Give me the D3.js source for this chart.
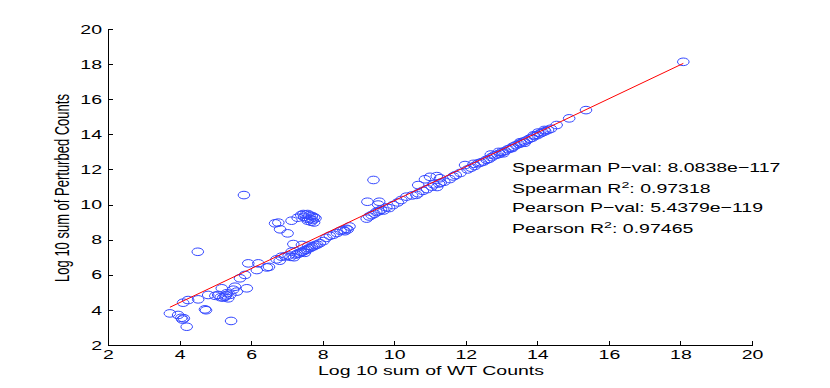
<!DOCTYPE html>
<html>
<head>
<meta charset="utf-8">
<script src="https://cdn.jsdelivr.net/npm/d3@7"></script>
<style>
  body { margin: 0; background: #fff; }
  text { font-family: "Liberation Sans", Arial, Helvetica, sans-serif; fill: #000; }
  .axis path, .axis line { stroke: #000; shape-rendering: crispEdges; }
</style>
</head>
<body>
<svg id="chart"></svg>
<script>
// log10 sums: [WT, Perturbed]
var points = [
  [3.73,3.80],[3.96,3.71],[4.05,3.55],[4.08,3.45],[4.12,3.52],[4.20,3.04],[4.71,4.03],[4.74,3.98],[5.44,3.37],
  [4.10,4.41],[4.24,4.56],[4.52,4.60],[4.80,4.85],[5.00,4.80],[5.08,4.85],[5.15,4.72],[5.18,5.23],[5.27,4.75],
  [5.30,4.82],[5.32,4.95],[5.22,4.70],[5.36,4.66],[5.42,4.86],[5.55,5.32],[5.60,5.04],[5.50,5.15],[5.88,5.23],
  [5.69,5.80],[5.83,5.99],[5.92,6.65],[6.20,6.65],[6.16,6.27],[6.44,6.42],[6.50,6.45],[4.51,7.31],[5.80,10.54],
  [6.71,6.88],[6.80,6.80],[6.85,7.03],[6.95,7.05],[7.05,7.10],[7.13,7.31],[7.20,7.00],[7.25,7.15],[7.30,7.20],
  [7.35,7.22],[7.40,7.30],[7.45,7.32],[7.50,7.40],[7.55,7.42],[7.60,7.50],[7.65,7.52],[7.70,7.60],[7.75,7.62],
  [7.80,7.70],[7.85,7.72],[7.92,7.80],[7.18,7.75],[7.42,7.70],[7.60,7.65],[7.10,7.02],[7.50,7.25],
  [6.67,8.93],[6.76,8.97],[6.81,8.59],[7.02,8.36],[7.13,9.08],[7.30,9.25],[7.40,9.40],[7.46,9.46],[7.52,9.42],
  [7.58,9.46],[7.63,9.38],[7.70,9.35],[7.76,9.28],[7.48,9.30],[7.55,9.20],[7.65,9.18],[7.72,9.12],[7.80,9.22],
  [7.58,9.08],[7.68,9.02],[7.76,8.98],
  [8.02,7.92],[8.10,8.10],[8.20,8.22],[8.30,8.28],[8.40,8.38],[8.50,8.50],[8.58,8.55],[8.66,8.62],[8.75,8.75],
  [8.70,8.58],[8.62,8.48],[9.23,9.20],[9.30,9.32],[9.37,9.40],[9.45,9.48],[9.50,9.58],[9.57,9.62],[9.63,9.70],
  [9.70,9.66],[9.78,9.84],[9.86,9.80],[9.97,9.97],[10.10,10.12],[10.20,10.26],[10.34,10.45],[10.50,10.52],
  [10.62,10.55],[10.67,10.64],[10.80,10.78],[10.92,10.88],[11.05,11.02],[11.20,11.00],[11.30,11.25],
  [9.42,11.40],[9.25,10.16],[9.58,10.16],[9.55,10.00],[10.67,11.11],[10.86,11.44],[11.00,11.58],[11.19,11.62],
  [11.28,11.50],[11.10,11.15],[11.25,11.20],
  [11.40,11.30],[11.55,11.45],[11.65,11.60],[11.72,11.68],[11.85,11.80],[11.98,12.25],[12.05,12.00],[12.15,12.10],
  [12.25,12.20],[12.22,12.32],[12.35,12.35],[12.42,12.40],[12.50,12.45],[12.58,12.55],[12.65,12.60],[12.72,12.70],
  [12.70,12.85],[12.80,12.80],[12.88,12.85],[12.92,13.00],[12.95,12.90],[13.02,13.00],[13.05,12.92],[13.10,13.05],
  [13.18,13.15],[13.25,13.20],[13.30,13.22],[13.32,13.30],[13.40,13.38],[13.48,13.45],[13.52,13.55],[13.55,13.50],
  [13.62,13.60],[13.65,13.52],[13.70,13.66],[13.78,13.75],[13.85,13.80],[13.90,13.95],[13.92,13.90],[14.00,13.96],
  [14.02,14.10],[14.08,14.05],[14.15,14.12],[14.20,14.25],[14.22,14.18],[14.30,14.25],[14.38,14.32],[14.54,14.53],
  [14.89,14.91],[15.36,15.38],[18.08,18.13]
];

// least squares fit line, end points
var fitX = [3.73, 18.08];
var fitY = [4.15, 18.04];

var xTicks = [2, 4, 6, 8, 10, 12, 14, 16, 18, 20];
var yTicks = [2, 4, 6, 8, 10, 12, 14, 16, 18, 20];

var statLabels = [
  {pre: 'Spearman P\u2212val: 8.0838e\u2212117'},
  {pre: 'Spearman R', sup: '2', post: ': 0.97318'},
  {pre: 'Pearson P\u2212val: 5.4379e\u2212119'},
  {pre: 'Pearson R', sup: '2', post: ': 0.97465'}
];

// figure is stretched horizontally, so is the text
var sx = 1.5;

var margin = {top: 29, right: 78, bottom: 43, left: 108},
  width = 830 - margin.left - margin.right,
  height = 388 - margin.top - margin.bottom;

var svg = d3.select('#chart')
  .attr('width', 830)
  .attr('height', 388);

var container = svg.append('g')
  .attr('transform', 'translate(' + margin.left + ',' + margin.top + ')');

var x = d3.scaleLinear().domain([2, 20]).range([0, width]);
var y = d3.scaleLinear().domain([2, 20]).range([height, 0]);

var xAxis = d3.axisBottom(x).tickValues(xTicks).tickSizeInner(-4).tickSizeOuter(0).tickPadding(5);
var yAxis = d3.axisLeft(y).tickValues(yTicks).tickSizeInner(-5).tickSizeOuter(0).tickPadding(4);

var gx = container.append('g')
  .attr('class', 'x axis')
  .attr('transform', 'translate(0,' + height + ')')
  .call(xAxis);
gx.selectAll('.tick text')
  .attr('fill', '#000')
  .style('font-size', '13px')
  .attr('transform', 'scale(' + sx + ',1)');

var gy = container.append('g')
  .attr('class', 'y axis')
  .call(yAxis);
gy.selectAll('.tick text')
  .attr('fill', '#000')
  .style('font-size', '13px')
  .attr('transform', 'scale(' + sx + ',1)');

container.selectAll('.axis .domain').attr('stroke', '#000');

// axis titles
container.append('text')
  .attr('transform', 'translate(' + (431 - margin.left) + ',' + (375 - margin.top) + ') scale(' + sx + ',1)')
  .attr('text-anchor', 'middle')
  .style('font-size', '13px')
  .text('Log 10 sum of WT Counts');

container.append('text')
  .attr('transform', 'translate(' + (69 - margin.left) + ',' + (188 - margin.top) + ') scale(' + sx + ',1) rotate(-90)')
  .attr('text-anchor', 'middle')
  .style('font-size', '13px')
  .text('Log 10 sum of Perturbed Counts');

// scatter
container.selectAll('.pt')
  .data(points)
  .enter().append('ellipse')
  .attr('class', 'pt')
  .attr('cx', function(d) { return x(d[0]); })
  .attr('cy', function(d) { return y(d[1]); })
  .attr('rx', 5.8)
  .attr('ry', 3.8)
  .attr('fill', 'none')
  .attr('stroke', '#3347ff')
  .attr('stroke-width', 1);

// fit line
container.append('line')
  .attr('x1', x(fitX[0]))
  .attr('y1', y(fitY[0]))
  .attr('x2', x(fitX[1]))
  .attr('y2', y(fitY[1]))
  .attr('stroke', '#ff0000')
  .attr('stroke-width', 1);

// stats text
var baselines = [172, 193, 212, 233];
statLabels.forEach(function(s, i) {
  var t = container.append('text')
    .attr('transform', 'translate(' + (512 - margin.left) + ',' + (baselines[i] - margin.top) + ') scale(' + sx + ',1)')
    .style('font-size', '13px');
  t.append('tspan').text(s.pre);
  if (s.sup) {
    t.append('tspan').attr('dy', -5).style('font-size', '9.5px').text(s.sup);
    t.append('tspan').attr('dy', 5).text(s.post);
  }
});
</script>
</body>
</html>
